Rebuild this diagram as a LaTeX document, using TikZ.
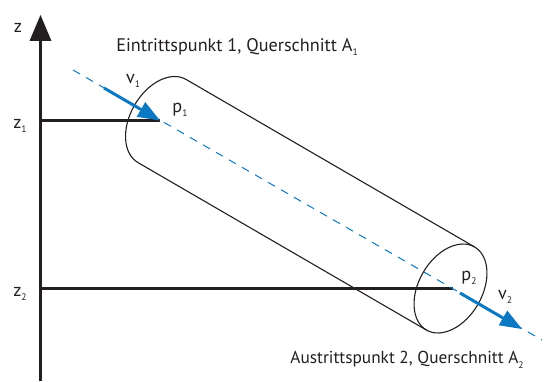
\documentclass[tikz,border=0pt]{standalone}
\usepackage{fontspec}
\setmainfont{PT Sans}
\usetikzlibrary{arrows.meta}
\definecolor{ink}{HTML}{231F20}
\definecolor{flow}{HTML}{0A78C2}
\newcommand{\subs}[1]{\raisebox{-4.5pt}{\fontsize{9.5}{10}\selectfont #1}}
\tikzset{
  x=1pt,y=1pt,
  txt/.style={text=ink,font=\fontsize{18.2}{20}\selectfont,inner sep=0pt},
  txtb/.style={text=ink,font=\fontsize{17.3}{20}\selectfont,inner sep=0pt},
  axisline/.style={draw=ink,line width=2.4pt},
  tube/.style={draw=ink,line width=1.1pt},
  axisdash/.style={draw=flow,line width=1pt,dash pattern=on 8pt off 7pt},
  flowarrow/.style={draw=flow,line width=3pt,-{Triangle[length=22pt,width=17pt,line width=0pt]}},
  zarrow/.style={draw=ink,line width=2.4pt,-{Triangle[length=26pt,width=22pt,line width=0pt]}}
}
\begin{document}
\begin{tikzpicture}
\useasboundingbox (0,0) rectangle (550,381);
\coordinate (o) at (40.5,0);
\coordinate (top) at (40.5,366);
\coordinate (za) at (40.5,260.5);
\coordinate (zb) at (40.5,92.5);
\coordinate (pa) at (160,260.5);
\coordinate (pb) at (453,92.5);
\coordinate (da) at (73,311);
\coordinate (db) at (542,41);
\coordinate (va) at (104,293);
\coordinate (vb) at (460,88);
\coordinate (vc) at (522,52);
\coordinate (ca) at (162,260);
\coordinate (cb) at (450.5,92.5);
\coordinate (ta) at (186,301.6);
\coordinate (tb) at (474.5,134.1);
\coordinate (ba) at (138,218.4);
\coordinate (bb) at (426.5,50.9);
% tube
\draw[tube,shift={(ca)},rotate=60] (48,0) arc[start angle=0,end angle=180,x radius=48,y radius=31.7];
\draw[tube,shift={(cb)},rotate=60] (0,0) circle[x radius=48,y radius=31.7];
\draw[tube] (ta) -- (tb);
\draw[tube] (ba) -- (bb);
% axes
\draw[zarrow] (o) -- (top);
\draw[axisline] (za) -- (pa);
\draw[axisline] (zb) -- (pb);
% flow
\draw[axisdash] (da) -- (db);
\draw[flowarrow] (va) -- (pa);
\draw[flowarrow] (vb) -- (vc);
% labels
\node[txt] (lz) at (18,353) {z};
\node[txt] (lza) at (20,255) {z\subs{1}};
\node[txt] (lzb) at (20,87) {z\subs{2}};
\node[txt] (lva) at (133,300) {v\subs{1}};
\node[txt] (lvb) at (505,84) {v\subs{2}};
\node[txt] (lpa) at (180,271) {p\subs{1}};
\node[txt] (lpb) at (469,103) {p\subs{2}};
\node[txt] (la) at (237,334) {Eintrittspunkt 1, Querschnitt A\subs{1}};
\node[txtb] (lb) at (407,21) {Austrittspunkt 2, Querschnitt A\subs{2}};
\end{tikzpicture}
\end{document}
